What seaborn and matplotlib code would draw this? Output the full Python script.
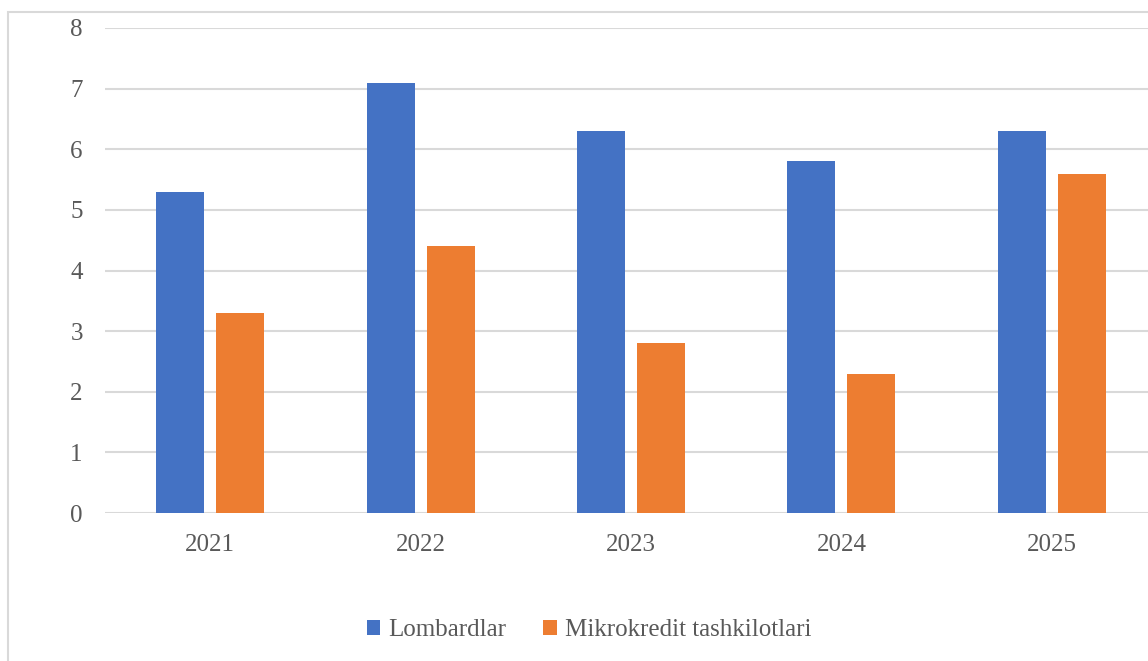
import pandas as pd
import seaborn as sns
import matplotlib.pyplot as plt
from matplotlib.patches import Rectangle

# Ma'lumotlar
years = ['2021', '2022', '2023', '2024', '2025']
lombardlar = [5.3, 7.1, 6.3, 5.8, 6.3]
mikrokredit = [3.3, 4.4, 2.8, 2.3, 5.6]
series_names = ['Lombardlar', 'Mikrokredit tashkilotlari']
colors = ['#4472C4', '#ED7D31']

df = pd.DataFrame({
    'Yil': years * 2,
    'Qiymat': lombardlar + mikrokredit,
    'Turi': [series_names[0]] * len(years) + [series_names[1]] * len(years),
})

sns.set_theme(style="white")
plt.rcParams['font.family'] = ['Liberation Serif', 'DejaVu Serif']
text_color = '#595959'
grid_color = '#d9d9d9'

fig = plt.figure(figsize=(11.48, 6.61), dpi=100)
fig.patch.set_facecolor('white')

# chart area border (right/bottom are cut off in the original)
fig.add_artist(Rectangle((8 / 1148, -0.1), 2, 0.1 + 1 - 12 / 661,
                         transform=fig.transFigure, facecolor='none',
                         edgecolor=grid_color, lw=1.5, clip_on=False))

ax = fig.add_axes([105 / 1148, 1 - 513 / 661, 1052 / 1148, 485 / 661])
sns.barplot(data=df, x='Yil', y='Qiymat', hue='Turi', palette=colors,
            width=0.57, gap=0.2, ax=ax, linewidth=0, saturation=1)

ax.set_ylim(0, 8)
ax.set_yticks(range(0, 9))
ax.set_xlim(-0.5, 4.5)
ax.yaxis.grid(True, color=grid_color, lw=1.5)
ax.set_axisbelow(True)
for s in ax.spines.values():
    s.set_visible(False)
ax.set_xlabel('')
ax.set_ylabel('')
ax.tick_params(axis='both', length=0, labelsize=18, colors=text_color)
ax.tick_params(axis='y', pad=16)
ax.tick_params(axis='x', pad=15)

handles, labels = ax.get_legend_handles_labels()
ax.get_legend().remove()
fig.legend(handles, labels, loc='center', bbox_to_anchor=(0.513, 0.047),
           ncol=2, frameon=False, fontsize=18, labelcolor=text_color,
           handlelength=0.55, handleheight=0.55, handletextpad=0.3,
           columnspacing=1.5)

plt.savefig('out.png', dpi=100)
